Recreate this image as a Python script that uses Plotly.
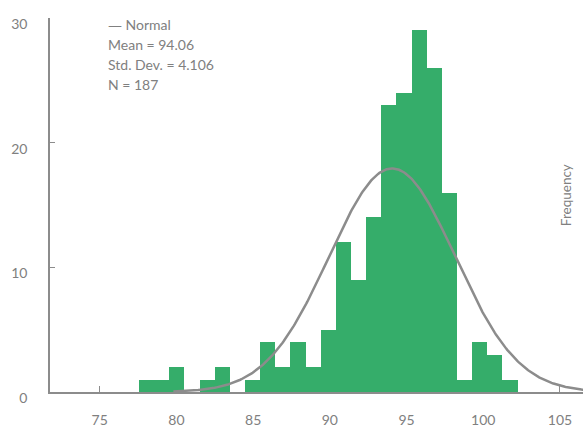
import numpy as np
import plotly.graph_objects as go

# Histogram counts, left to right
counts = [1, 1, 2, 0, 1, 2, 0, 1, 4, 2, 4, 2, 5, 12, 9, 14, 23, 24, 29, 26, 16, 1, 4, 3, 1]
bin_start = 77.56
bin_width = 0.987

# Summary statistics for the fitted normal curve
mean = 94.06
std_dev = 4.106
n_obs = 187

x_ticks = [75, 80, 85, 90, 95, 100, 105]
y_ticks = [0, 10, 20, 30]

bar_color = "#35ad6a"
gray = "#8c8c8c"
text_gray = "#808080"
font_family = "Lato, 'Open Sans', sans-serif"

centers = [bin_start + bin_width * (i + 0.5) for i in range(len(counts))]

curve_x = np.linspace(79.8, 106.6, 400)
curve_y = n_obs * bin_width / (std_dev * np.sqrt(2 * np.pi)) * np.exp(
    -0.5 * ((curve_x - mean) / std_dev) ** 2
)

fig = go.Figure()
fig.add_trace(go.Bar(
    x=centers, y=counts, width=bin_width,
    marker=dict(color=bar_color, line=dict(width=0)),
    hoverinfo="x+y",
))
fig.add_trace(go.Scatter(
    x=curve_x, y=curve_y, mode="lines",
    line=dict(color=gray, width=2.5),
    hoverinfo="skip",
))

W, H = 583, 428
ml, mr, mt, mb = 50, 0, 18, 30

def px_x(p):
    return (p - ml) / (W - ml - mr)

def px_y(p):
    return (H - mb - p) / (H - mt - mb)

stats_lines = [
    "<span style='font-family:DejaVu Sans'>\u2014</span> Normal",
    "Mean = 94.06",
    "Std. Dev. = 4.106",
    "N = 187",
]
annotations = []
for i, line in enumerate(stats_lines):
    annotations.append(dict(
        text=line, xref="paper", yref="paper",
        x=px_x(106), y=px_y(25 + 20.3 * i),
        xanchor="left", yanchor="middle", showarrow=False,
        font=dict(family=font_family, size=14, color=text_gray),
    ))
annotations.append(dict(
    text="Frequency", xref="paper", yref="paper",
    x=px_x(566), y=px_y(198), textangle=-90,
    xanchor="center", yanchor="middle", showarrow=False,
    font=dict(family=font_family, size=13.5, color=text_gray),
))

fig.update_layout(
    width=W, height=H,
    margin=dict(l=ml, r=mr, t=mt, b=mb),
    paper_bgcolor="white", plot_bgcolor="white",
    showlegend=False, bargap=0,
    annotations=annotations,
    font=dict(family=font_family, size=14, color=text_gray),
)
fig.update_xaxes(
    range=[71.76, 106.5], tickvals=x_ticks,
    showgrid=False, zeroline=False,
    showline=True, linecolor=gray, linewidth=1.5,
    ticks="inside", ticklen=6, tickcolor=gray, tickwidth=1,
    ticklabelstandoff=14, layer="below traces",
    tickfont=dict(family=font_family, size=14, color=text_gray),
)
fig.update_yaxes(
    range=[0, 30], tickvals=y_ticks,
    showgrid=False, zeroline=False,
    showline=True, linecolor=gray, linewidth=1.5,
    ticks="inside", ticklen=5, tickcolor=gray, tickwidth=1,
    ticklabelstandoff=18, ticklabelshift=6, layer="below traces",
    tickfont=dict(family=font_family, size=14, color=text_gray),
)

fig.write_html("out.html")
